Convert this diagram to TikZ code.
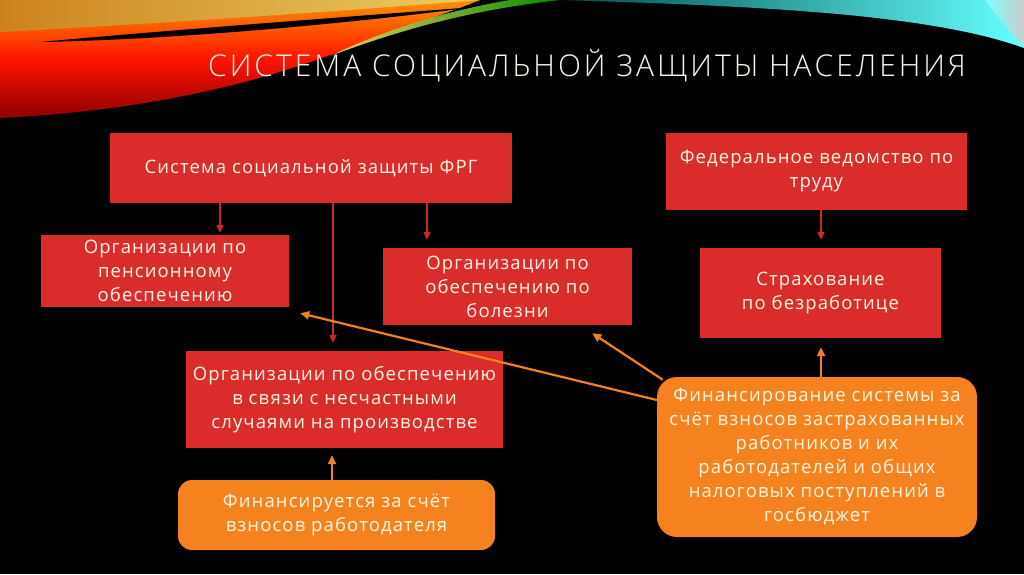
\documentclass[tikz,border=0pt]{standalone}
\usepackage{fontspec}
\setmainfont{Open Sans}
\newfontfamily\titlefont{Open Sans Light}
\usetikzlibrary{calc,arrows.meta}
\definecolor{boxred}{RGB}{218,44,42}
\definecolor{arrred}{RGB}{200,40,40}
\definecolor{boxorange}{RGB}{245,130,31}
\definecolor{txt}{RGB}{255,248,232}
\definecolor{gold1}{RGB}{205,130,30}
\definecolor{gold2}{RGB}{235,205,100}
\tikzset{
  redbox/.style={fill=boxred, draw=none, text=txt, align=center, inner sep=0pt,
    font=\fontsize{18.5}{24}\selectfont\addfontfeatures{LetterSpace=6}},
  orbox/.style={redbox, fill=boxorange, rounded corners=14pt},
  rarr/.style={draw=arrred, line width=2.2pt, -{Triangle[length=8pt,width=7pt]}},
  oarr/.style={draw=boxorange, line width=2.2pt, -{Triangle[length=9pt,width=8pt]}},
}
\begin{document}
\begin{tikzpicture}[x=1pt,y=-1pt]
\useasboundingbox (0,0) rectangle (1024,574);
\fill[black] (0,0) rectangle (1024,574);
% decorative ribbons
\shade[top color=orange!85!yellow, bottom color=red!55!black, middle color=red!85!orange]
  (0,0) -- (0,118) .. controls (120,112) and (230,92) .. (330,55)
  .. controls (380,36) and (440,16) .. (480,0) -- cycle;
\shade[left color=gold1, right color=gold2]
  (0,0) -- (0,32) .. controls (150,24) and (330,12) .. (480,0) -- cycle;
\fill[black] (40,42) .. controls (160,31) and (330,18) .. (475,7)
  .. controls (330,26) and (160,40) .. (40,42) -- cycle;
\shade[left color=gold2, right color=green!55!black]
  (330,56) .. controls (400,30) and (470,10) .. (560,0) -- (510,0)
  .. controls (440,12) and (380,32) .. (330,56) -- cycle;
\shade[left color=teal!60!black, right color=cyan!60!white]
  (560,0) .. controls (760,6) and (930,14) .. (1024,48) -- (1024,0) -- cycle;
\shade[left color=cyan!50!white, right color=gray!40]
  (985,0) .. controls (1000,20) and (1012,35) .. (1024,45) -- (1024,0) -- cycle;
% title
\node[text=txt, font=\titlefont\fontsize{30}{31}\selectfont\addfontfeatures{LetterSpace=10}, anchor=base west, inner sep=0pt]
  (title) at (208,76) {СИСТЕМА СОЦИАЛЬНОЙ ЗАЩИТЫ НАСЕЛЕНИЯ};
% boxes
\node[redbox, minimum width=402, minimum height=70] (top) at (311,168) {Система социальной защиты ФРГ};
\node[redbox, minimum width=248, minimum height=72] (pen) at (165,271) {Организации по\\пенсионному\\обеспечению};
\node[redbox, minimum width=249, minimum height=77] (ill) at (507.5,286.5) {Организации по\\обеспечению по\\болезни};
\node[redbox, minimum width=301, minimum height=77] (fed) at (816.5,171.5) {Федеральное ведомство по\\труду};
\node[redbox, minimum width=241, minimum height=90] (unemp) at (820.5,293) {Страхование\\по безработице};
\node[redbox, minimum width=317, minimum height=97] (acc) at (344.5,399.5) {Организации по обеспечению\\в связи с несчастными\\случаями на производстве};
\node[orbox, minimum width=317, minimum height=70] (emp) at (336.5,515) {Финансируется за счёт\\взносов работодателя};
\node[orbox, rounded corners=20pt, minimum width=320, minimum height=160] (fin) at (817,457)
  {Финансирование системы за\\счёт взносов застрахованных\\работников и их\\работодателей и общих\\налоговых поступлений в\\госбюджет};
% connectors
\draw[rarr, shorten >=2pt] (top.south -| 220,0) -- (pen.north -| 220,0);
\draw[rarr, shorten >=8pt] (top.south -| 333,0) -- (acc.north -| 333,0);
\draw[rarr, shorten >=8pt] (top.south -| 427,0) -- (ill.north -| 427,0);
\draw[rarr, shorten >=8pt] (fed.south -| 821,0) -- (unemp.north -| 821,0);
\draw[oarr, shorten >=9pt] (fin.north -| 821,0) -- (unemp.south -| 821,0);
\draw[oarr, shorten >=7pt] (emp.north -| 332,0) -- (acc.south -| 332,0);
\draw[oarr] (fin.west |- 0,400) -- ($(pen.south east)+(11,6)$);
\draw[oarr] ($(fin.north west)+(6,3)$) -- ($(ill.south east)+(-40,8)$);
\end{tikzpicture}
\end{document}
